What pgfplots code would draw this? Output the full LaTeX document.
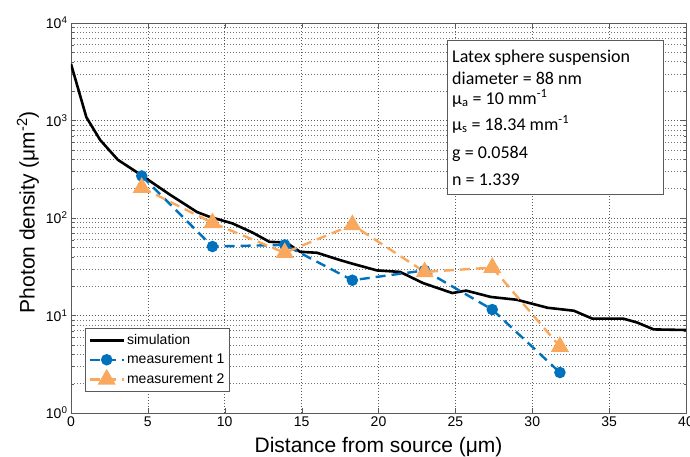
\documentclass[border=0pt]{standalone}
\usepackage{fontspec}
\setmainfont{Liberation Sans}
\newfontfamily\calibri{Carlito}
\usepackage{pgfplots}
\pgfplotsset{compat=1.18}
\definecolor{mblue}{RGB}{0,114,189}
\definecolor{morange}{RGB}{249,168,94}
\definecolor{axgray}{RGB}{90,90,90}
\begin{document}
\begin{tikzpicture}
\begin{axis}[
    width=615pt, height=390pt, scale only axis,
    ymode=log,
    xmin=0, xmax=40, ymin=1, ymax=10000,
    xtick={0,5,...,40},
    ytick={1,10,100,1000,10000},
    yticklabels={10\textsuperscript{0},10\textsuperscript{1},10\textsuperscript{2},10\textsuperscript{3},10\textsuperscript{4}},
    /pgf/number format/assume math mode=true,
    tick label style={font=\fontsize{14}{16}\selectfont},
    xlabel={Distance from source (μm)},
    ylabel={Photon density (μm\textsuperscript{-2})},
    label style={font=\fontsize{21}{24}\selectfont},
    xlabel style={at={(axis description cs:0.5,-0.087)}, anchor=center},
    ylabel style={at={(axis description cs:-0.07,0.515)}, anchor=center},
    grid=both,
    major grid style={black!65, line width=0.6pt, dash pattern=on 0.8pt off 2.2pt},
    minor grid style={black!55, line width=0.6pt, dash pattern=on 0.8pt off 2.2pt},
    axis line style={axgray, line width=0.8pt},
    tick align=inside, major tick length=5pt, minor tick length=2.5pt,
    tick style={axgray},
    legend style={at={(axis description cs:0.023,0.056)}, anchor=south west,
        font=\fontsize{14}{16}\selectfont, draw=axgray, row sep=4pt,
        inner xsep=3pt, inner ysep=4pt},
    legend cell align=left,
    legend image code/.code={\draw[mark repeat=2,mark phase=2,#1]
        plot coordinates {(0cm,0cm)(0.6cm,0cm)(1.2cm,0cm)};},
]
\addplot[black, line width=2.6pt, no marks] coordinates {
    (0,3800) (1,1080) (1.9,630) (3.05,395) (4.5,280) (6.4,175)
    (8.2,115) (9.0,103) (10.5,88) (11.8,71) (12.9,57) (14.0,56)
    (14.9,45) (16.0,44) (17.5,37) (18.3,34) (19.9,29) (21.4,28)
    (22.9,21.5) (24.8,17) (25.7,18) (27.3,15.5) (29.0,14.5) (31.0,12)
    (32.7,11.2) (33.9,9.3) (35.9,9.3) (36.8,8.5) (37.9,7.2) (40,7.1)
};
\addlegendentry{simulation}
\addplot[mblue, line width=2.4pt, dash pattern=on 10pt off 6pt,
    mark=*, mark size=4.5pt, mark options={solid}] coordinates {
    (4.6,270) (9.2,51) (13.9,53) (18.3,23) (23.0,29) (27.4,11.5) (31.8,2.6)
};
\addlegendentry{measurement 1}
\addplot[morange, line width=2.4pt, dash pattern=on 10pt off 6pt,
    mark=triangle*, mark size=8pt, mark options={solid}] coordinates {
    (4.6,205) (9.2,89) (13.9,44) (18.3,85) (23.0,28) (27.4,31) (31.8,4.8)
};
\addlegendentry{measurement 2}
\end{axis}
\draw[axgray, line width=0.8pt, fill=white]
    ([shift={(376pt,-17pt)}]current axis.north west) rectangle
    ([shift={(592pt,-171pt)}]current axis.north west);
\begin{scope}[every node/.style={anchor=base west, inner sep=0pt,
    font=\calibri\fontsize{18}{20}\selectfont}]
\node at ([shift={(381pt,-40pt)}]current axis.north west) {Latex sphere suspension};
\node at ([shift={(381pt,-62pt)}]current axis.north west) {diameter = 88 nm};
\node at ([shift={(381pt,-81pt)}]current axis.north west) {μ\textsubscript{a} = 10 mm\textsuperscript{-1}};
\node at ([shift={(381pt,-107pt)}]current axis.north west) {μ\textsubscript{s} = 18.34 mm\textsuperscript{-1}};
\node at ([shift={(381pt,-135pt)}]current axis.north west) {g = 0.0584};
\node at ([shift={(381pt,-162pt)}]current axis.north west) {n = 1.339};
\end{scope}
\pgfresetboundingbox
\path ([shift={(-71pt,-44pt)}]current axis.south west) rectangle
    ([shift={(619pt,413pt)}]current axis.south west);
\end{tikzpicture}
\end{document}
